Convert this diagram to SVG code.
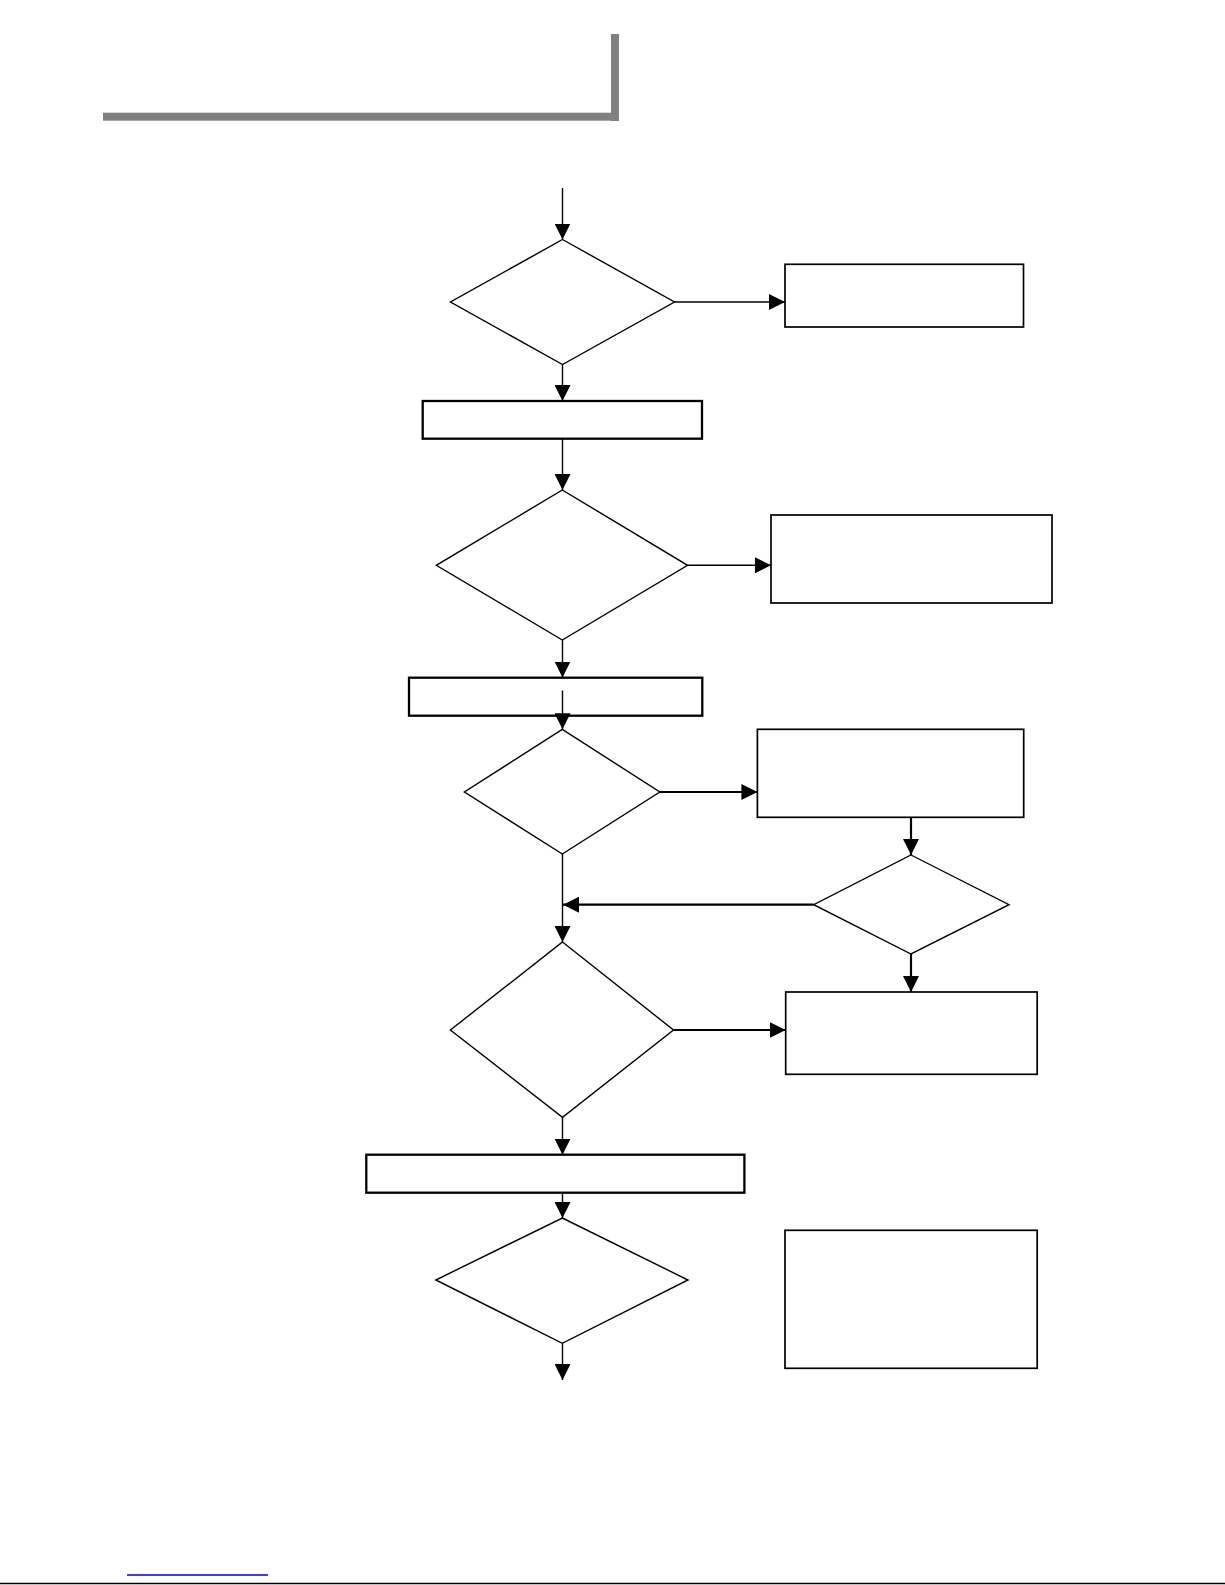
<svg xmlns="http://www.w3.org/2000/svg" width="1225" height="1585" viewBox="0 0 1225 1585">
<style>
.bg{fill:#ffffff}
.dia{fill:none;stroke:#000;stroke-width:1.4}
.box{fill:none;stroke:#000;stroke-width:1.7}
.bar{fill:none;stroke:#000;stroke-width:2.3}
.con{fill:none;stroke:#000;stroke-width:1.4}
.thick{stroke-width:2.2}
.hdr{fill:#808080}
</style>
<defs>
<marker id="ah" markerUnits="userSpaceOnUse" markerWidth="16" markerHeight="16" viewBox="0 0 14 14" refX="14" refY="7" orient="auto">
<path d="M0,0 L14,7 L0,14 Z" fill="#000"/>
</marker>
</defs>
<rect class="bg" x="0" y="0" width="1225" height="1585"/>
<g id="header">
<rect class="hdr" x="103" y="112.7" width="516" height="8"/>
<rect class="hdr" x="611" y="34" width="8" height="87"/>
</g>
<g id="footer">
<line x1="127" y1="1575" x2="268" y2="1575" stroke="#0000ee" stroke-width="1.5"/>
<line x1="0" y1="1583.5" x2="1225" y2="1583.5" stroke="#000" stroke-width="1.6"/>
</g>
<g id="d1"><polygon class="dia" points="562.5,239.5 674.5,302 562.5,364.5 450.5,302"/></g>
<g id="r1"><rect class="box" x="785" y="264.3" width="238.5" height="62.7"/></g>
<g id="b1"><rect class="bar" x="422.7" y="401" width="279.3" height="37.7"/></g>
<g id="d2"><polygon class="dia" points="562.3,490 687.6,565.3 562.3,640 436.3,565.3"/></g>
<g id="r2"><rect class="box" x="771" y="515" width="281" height="88"/></g>
<g id="b2"><rect class="bar" x="409" y="677.7" width="293.3" height="38"/></g>
<g id="d3"><polygon class="dia" points="562.3,729.3 659.8,792 562.3,854 464.4,792"/></g>
<g id="r3"><rect class="box" x="757.4" y="729.3" width="266.3" height="88"/></g>
<g id="d4"><polygon class="dia" points="911,855 1009,904.7 911,954 813.7,904.7"/></g>
<g id="r4"><rect class="box" x="785.7" y="992" width="251.5" height="82.3"/></g>
<g id="d5"><polygon class="dia" points="562.5,942 673.5,1030 562.5,1117.3 450.4,1030"/></g>
<g id="b3"><rect class="bar" x="366.3" y="1154.7" width="378.1" height="38"/></g>
<g id="d6"><polygon class="dia" points="562.3,1218 688,1280 562.3,1343.3 435.8,1280"/></g>
<g id="r5"><rect class="box" x="785" y="1230.3" width="252.2" height="138"/></g>
<g id="connectors">
<line class="con" x1="562.5" y1="188" x2="562.5" y2="239.5" marker-end="url(#ah)"/>
<line class="con" x1="674.5" y1="302" x2="785" y2="302" marker-end="url(#ah)"/>
<line class="con" x1="562.5" y1="364.5" x2="562.5" y2="401" marker-end="url(#ah)"/>
<line class="con" x1="562.5" y1="439" x2="562.5" y2="490" marker-end="url(#ah)"/>
<line class="con" x1="687.6" y1="565.3" x2="771" y2="565.3" marker-end="url(#ah)"/>
<line class="con" x1="562.5" y1="640" x2="562.5" y2="677.5" marker-end="url(#ah)"/>
<line class="con" x1="562.5" y1="690.5" x2="562.5" y2="729.3" marker-end="url(#ah)"/>
<line class="con thick" x1="659.8" y1="792" x2="757.4" y2="792" marker-end="url(#ah)"/>
<line class="con thick" x1="911" y1="817.3" x2="911" y2="855" marker-end="url(#ah)"/>
<line class="con thick" x1="813.7" y1="904.7" x2="563" y2="904.7" marker-end="url(#ah)"/>
<line class="con" x1="562.5" y1="854" x2="562.5" y2="942" marker-end="url(#ah)"/>
<line class="con thick" x1="673.5" y1="1030" x2="785.7" y2="1030" marker-end="url(#ah)"/>
<line class="con thick" x1="911" y1="954" x2="911" y2="992" marker-end="url(#ah)"/>
<line class="con" x1="562.5" y1="1117.3" x2="562.5" y2="1154.7" marker-end="url(#ah)"/>
<line class="con" x1="562.5" y1="1193" x2="562.5" y2="1218" marker-end="url(#ah)"/>
<line class="con" x1="562.5" y1="1343.3" x2="562.5" y2="1380" marker-end="url(#ah)"/>
</g>
</svg>
